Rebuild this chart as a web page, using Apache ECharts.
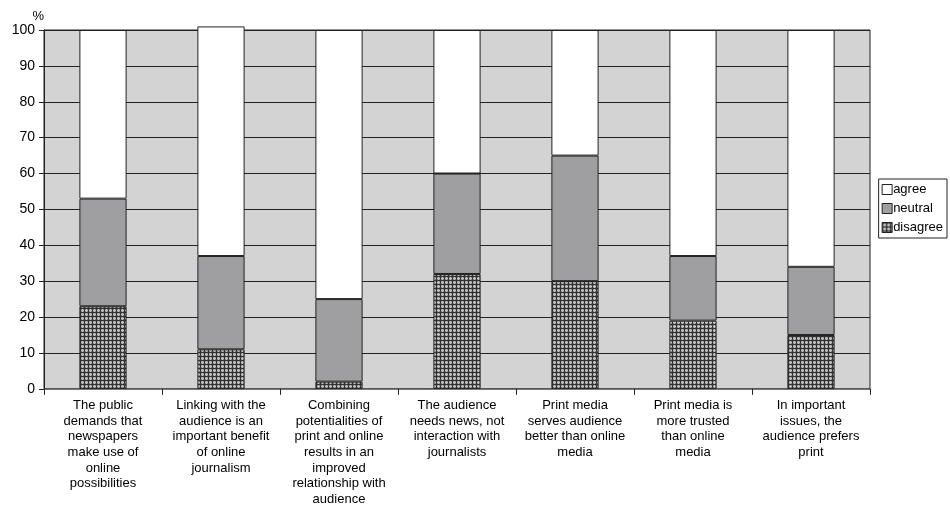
<!DOCTYPE html>
<html>
<head>
<meta charset="utf-8">
<script src="https://cdn.jsdelivr.net/npm/echarts@6/dist/echarts.min.js"></script>
<style>
  html, body { margin: 0; padding: 0; background: #fff; }
  #chart { width: 950px; height: 507px; }
</style>
</head>
<body>
<div id="chart"></div>
<script>
const categories = [
  'The public\ndemands that\nnewspapers\nmake use of\nonline\npossibilities',
  'Linking with the\naudience is an\nimportant benefit\nof online\njournalism',
  'Combining\npotentialities of\nprint and online\nresults in an\nimproved\nrelationship with\naudience',
  'The audience\nneeds news, not\ninteraction with\njournalists',
  'Print media\nserves audience\nbetter than online\nmedia',
  'Print media is\nmore trusted\nthan online\nmedia',
  'In important\nissues, the\naudience prefers\nprint'
];
const disagree = [23, 11, 2, 32, 30, 19, 15];
const neutral = [30, 26, 23, 28, 35, 18, 19];
const agree = [47, 64, 75, 40, 35, 63, 66];
const yTicks = [0, 10, 20, 30, 40, 50, 60, 70, 80, 90, 100];

// small plaid tile for the "disagree" fill
function plaidTile() {
  const c = document.createElement('canvas');
  c.width = 4; c.height = 4;
  const g = c.getContext('2d');
  g.fillStyle = '#808080';
  g.fillRect(0, 0, 4, 4);
  g.fillStyle = '#c4c4c4';
  g.fillRect(2, 0, 1, 4);
  g.fillRect(0, 2, 4, 1);
  g.fillStyle = '#333333';
  g.fillRect(0, 0, 1, 4);
  g.fillRect(0, 0, 4, 1);
  return c;
}

const chart = echarts.init(document.getElementById('chart'), null, { renderer: 'canvas' });
const font = 'Liberation Sans, Arial, sans-serif';
const edge = { borderColor: '#222', borderWidth: 1 };

chart.setOption({
  animation: false,
  backgroundColor: '#fff',
  textStyle: { fontFamily: font },
  grid: {
    left: 44, right: 80, top: 30, bottom: 118,
    show: true, backgroundColor: '#d3d3d3', borderColor: '#222', borderWidth: 1
  },
  legend: {
    orient: 'vertical',
    right: 3, top: 179,
    data: ['agree', 'neutral', 'disagree'],
    icon: 'rect',
    itemWidth: 10, itemHeight: 10, itemGap: 6,
    padding: [4, 4, 4, 3],
    borderColor: '#222', borderWidth: 1,
    textStyle: { fontFamily: font, fontSize: 13, color: '#000', padding: [0, 0, 0, -4] },
    itemStyle: { borderColor: '#222', borderWidth: 1 }
  },
  xAxis: {
    type: 'category',
    data: categories,
    axisLine: { show: true, lineStyle: { color: '#777', width: 1 } },
    axisTick: { show: true, length: 6, lineStyle: { color: '#222' } },
    axisLabel: {
      interval: 0, fontFamily: font, fontSize: 13, color: '#000',
      lineHeight: 15.6, margin: 9, align: 'center'
    },
    splitLine: { show: false }
  },
  yAxis: {
    type: 'value',
    min: 0, max: 100, interval: 10,
    name: '%',
    nameLocation: 'end',
    nameGap: 7,
    nameTextStyle: { fontFamily: font, fontSize: 13, color: '#000', align: 'right', padding: [0, 0, 0, 0] },
    axisLine: { show: true, lineStyle: { color: '#222', width: 1 } },
    axisTick: { show: true, length: 5, lineStyle: { color: '#222' } },
    axisLabel: {
      fontFamily: font, fontSize: 14, color: '#000', margin: 9,
      formatter: v => (yTicks.includes(v) ? String(v) : '')
    },
    splitLine: { show: true, lineStyle: { color: '#222', width: 1 } }
  },
  series: [
    {
      name: 'disagree', type: 'bar', stack: 'all', data: disagree,
      barWidth: '40%', clip: false,
      itemStyle: Object.assign({ color: { image: plaidTile(), repeat: 'repeat' } }, edge)
    },
    {
      name: 'neutral', type: 'bar', stack: 'all', data: neutral,
      barWidth: '40%', clip: false,
      itemStyle: Object.assign({ color: '#9f9fa1' }, edge)
    },
    {
      name: 'agree', type: 'bar', stack: 'all', data: agree,
      barWidth: '40%', clip: false,
      itemStyle: Object.assign({ color: '#ffffff' }, edge)
    }
  ]
});
</script>
</body>
</html>
